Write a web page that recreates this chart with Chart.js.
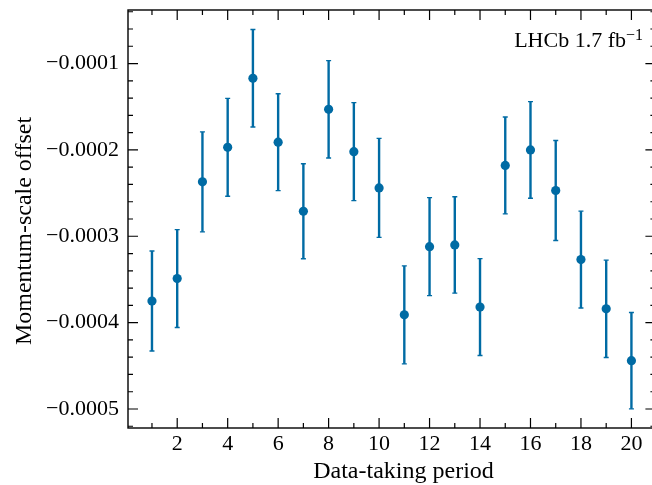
<!DOCTYPE html>
<html>
<head>
<meta charset="utf-8">
<script src="https://cdn.jsdelivr.net/npm/chart.js@4"></script>
<style>
  html, body { margin: 0; padding: 0; background: #fff; overflow: hidden; }
  #wrap { width: 660px; height: 485px; }
</style>
</head>
<body>
<div id="wrap"><canvas id="c" width="660" height="485"></canvas></div>
<script>
// --- data --- //
const periods = [1,2,3,4,5,6,7,8,9,10,11,12,13,14,15,16,17,18,19,20];
const offsets = [-0.000375,-0.000349,-0.000237,-0.000197,-0.000117,-0.000191,-0.000271,-0.000153,-0.000202,-0.000244,
                 -0.000391,-0.000312,-0.000310,-0.000382,-0.000218,-0.000200,-0.000247,-0.000327,-0.000384,-0.000444];
const errors  = [0.0000579,0.0000567,0.0000579,0.0000567,0.0000565,0.0000561,0.0000550,0.0000564,0.0000567,0.0000573,
                 0.0000567,0.0000567,0.0000558,0.0000561,0.0000561,0.0000559,0.0000579,0.0000561,0.0000564,0.0000558];
const xTicks = [2,4,6,8,10,12,14,16,18,20];
const yTicks = [-0.0005,-0.0004,-0.0003,-0.0002,-0.0001];
const xTitle = 'Data-taking period';
const yTitle = 'Momentum-scale offset';

const BLUE = '#006BA4';
const SERIF = "'Liberation Serif', 'Times New Roman', serif";

// error bars drawn under the markers
const errorBars = {
  id:'errorBars',
  beforeDatasetsDraw(chart){
    const {ctx, scales:{x,y}} = chart;
    ctx.save();
    ctx.strokeStyle = BLUE;
    periods.forEach((p,i)=>{
      const px = x.getPixelForValue(p);
      const top = y.getPixelForValue(offsets[i]+errors[i]);
      const bot = y.getPixelForValue(offsets[i]-errors[i]);
      ctx.lineWidth = 2.4;
      ctx.beginPath(); ctx.moveTo(px,top); ctx.lineTo(px,bot); ctx.stroke();
      ctx.lineWidth = 1.4;
      ctx.beginPath();
      ctx.moveTo(px-2.5,top); ctx.lineTo(px+2.5,top);
      ctx.moveTo(px-2.5,bot); ctx.lineTo(px+2.5,bot);
      ctx.stroke();
    });
    ctx.restore();
  }
};

// frame, inward ticks on all four sides, axis titles, LHCb label
const frameTicks = {
  id:'frameTicks',
  afterDraw(chart){
    const {ctx, chartArea:a, scales:{x,y}} = chart;
    ctx.save();
    ctx.strokeStyle = '#000';
    ctx.lineWidth = 1.4;
    ctx.strokeRect(a.left, a.top, a.right-a.left, a.bottom-a.top);
    ctx.lineWidth = 1.2;
    const vt = (px,len)=>{
      ctx.beginPath();
      ctx.moveTo(px,a.bottom); ctx.lineTo(px,a.bottom-len);
      ctx.moveTo(px,a.top); ctx.lineTo(px,a.top+len);
      ctx.stroke();
    };
    const ht = (py,len)=>{
      ctx.beginPath();
      ctx.moveTo(a.left,py); ctx.lineTo(a.left+len,py);
      ctx.moveTo(a.right,py); ctx.lineTo(a.right-len,py);
      ctx.stroke();
    };
    for(let v=Math.ceil(x.min); v<=x.max; v++){
      vt(x.getPixelForValue(v), v%2===0 ? 10 : 5);
    }
    const step = 0.00002;
    for(let k=Math.ceil(y.min/step-1e-6); k*step<=y.max; k++){
      ht(y.getPixelForValue(k*step), k%5===0 ? 10 : 5);
    }

    ctx.fillStyle = '#000';
    ctx.textBaseline = 'alphabetic';
    // axis titles
    ctx.font = "24px " + SERIF;
    ctx.textAlign = 'center';
    ctx.fillText(xTitle, 403.5, 478);
    ctx.save();
    ctx.translate(31, 231);
    ctx.rotate(-Math.PI/2);
    ctx.fillText(yTitle, 0, 0);
    ctx.restore();

    // LHCb label
    ctx.textAlign = 'right';
    ctx.font = "16px " + SERIF;
    const sup = "\u22121";
    const supW = ctx.measureText(sup).width;
    ctx.fillText(sup, 643, 39.5);
    ctx.font = "22px " + SERIF;
    ctx.fillText("LHCb 1.7 fb", 643-supW, 46.5);
    ctx.restore();
  }
};

const fmt = v => (v<0 ? '\u2212' : '') + Math.abs(v).toFixed(4);

new Chart(document.getElementById('c'), {
  type:'scatter',
  data:{
    datasets:[{
      data: periods.map((p,i)=>({x:p, y:offsets[i]})),
      backgroundColor: BLUE,
      borderWidth: 0,
      pointRadius: 4.6,
      pointHoverRadius: 4.6
    }]
  },
  options:{
    responsive:false,
    animation:false,
    devicePixelRatio:1,
    layout:{padding:{top:10, right:1.4, left:0, bottom:0}},
    plugins:{legend:{display:false}, tooltip:{enabled:false}},
    scales:{
      x:{
        type:'linear', min:0.05, max:20.95,
        afterBuildTicks: s => { s.ticks = xTicks.map(v=>({value:v})); },
        afterFit: s => { s.height = 57; s.paddingLeft = 0; s.paddingRight = 0; },
        grid:{display:false, drawTicks:false},
        border:{display:false},
        ticks:{color:'#000', padding:3, maxRotation:0, font:{family:SERIF, size:22}}
      },
      y:{
        type:'linear', min:-0.000522, max:-0.000038,
        afterBuildTicks: s => { s.ticks = yTicks.map(v=>({value:v})); },
        afterFit: s => { s.width = 128; s.paddingTop = 0; s.paddingBottom = 0; },
        grid:{display:false, drawTicks:false},
        border:{display:false},
        ticks:{color:'#000', padding:9, callback: fmt, font:{family:SERIF, size:22}}
      }
    }
  },
  plugins:[errorBars, frameTicks]
});
</script>
</body>
</html>
